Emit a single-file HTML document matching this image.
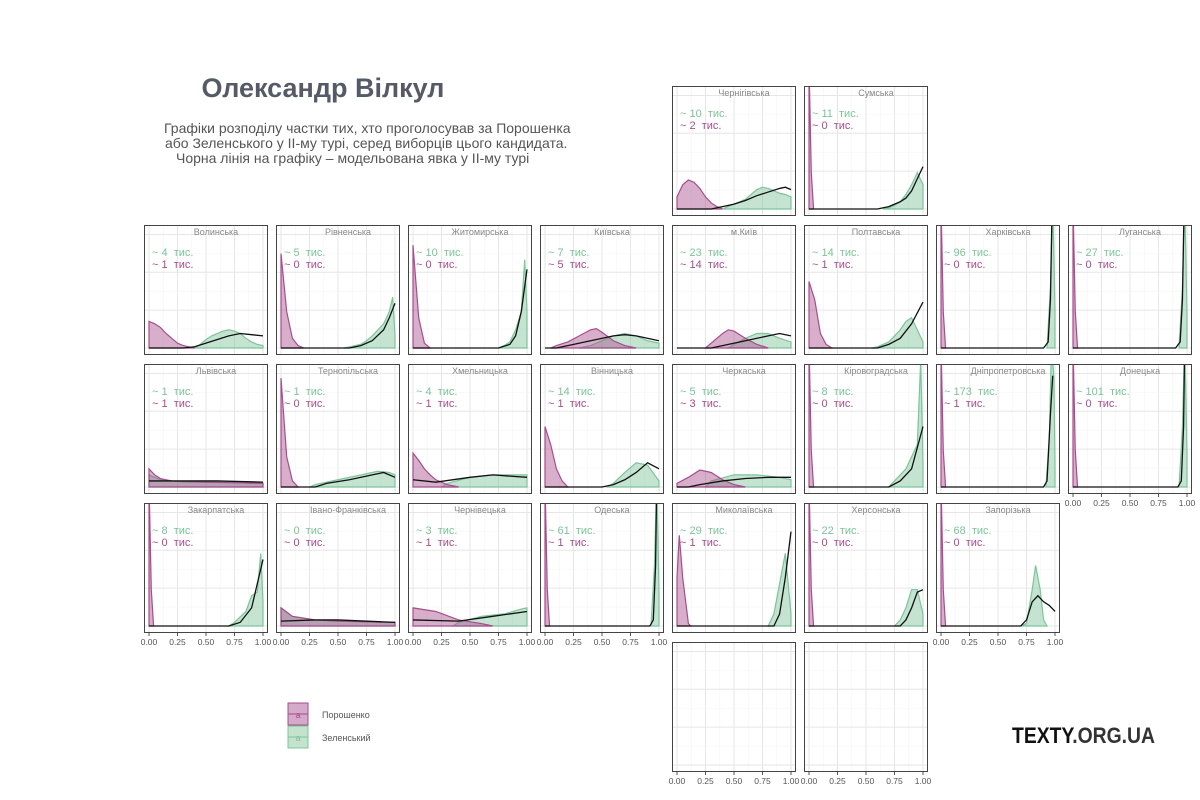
<!DOCTYPE html>
<html><head><meta charset="utf-8">
<style>
body{margin:0;background:#fff;width:1200px;height:800px;overflow:hidden;font-family:"Liberation Sans","DejaVu Sans",sans-serif;}
svg{display:block}
text{white-space:pre}
</style></head>
<body>
<svg id="chart" width="1200" height="800" viewBox="0 0 1200 800">
<text x="323" y="97" text-anchor="middle" font-size="27" font-weight="bold" fill="#555b66">Олександр Вілкул</text>
<g font-size="14" fill="#555">
<text x="164" y="133">Графіки розподілу частки тих, хто проголосував за Порошенка</text>
<text x="165" y="148">або Зеленського у ІІ-му турі, серед виборців цього кандидата.</text>
<text x="176" y="163">Чорна лінія на графіку – модельована явка у ІІ-му турі</text>
</g>
<g>
<rect x="288" y="703" width="20" height="22" fill="#d4a9c9" stroke="#a64d8c"/>
<line x1="288" y1="714" x2="308" y2="714" stroke="#a64d8c"/>
<text x="298" y="718" font-size="9" fill="#a64d8c" text-anchor="middle">a</text>
<text x="322" y="718" font-size="9" fill="#555">Порошенко</text>
<rect x="288" y="726" width="20" height="22" fill="#c3e3cd" stroke="#7cc49a"/>
<line x1="288" y1="737" x2="308" y2="737" stroke="#7cc49a"/>
<text x="298" y="741" font-size="9" fill="#7cc49a" text-anchor="middle">a</text>
<text x="322" y="741" font-size="9" fill="#555">Зеленський</text>
</g>
<text x="1012" y="743" font-size="22" font-weight="bold" fill="#111" textLength="143" lengthAdjust="spacingAndGlyphs">TEXTY<tspan fill="#333">.ORG.UA</tspan></text>
<g id="panels"></g>
</svg>
<script>
// region names, grid position [col,row], vote counts (thousands)
const regions=["Чернігівська","Сумська","Волинська","Рівненська","Житомирська","Київська","м.Київ","Полтавська","Харківська","Луганська","Львівська","Тернопільська","Хмельницька","Вінницька","Черкаська","Кіровоградська","Дніпропетровська","Донецька","Закарпатська","Івано-Франківська","Чернівецька","Одеська","Миколаївська","Херсонська","Запорізька","",""];
const gridPos=[[4,0],[5,0],[0,1],[1,1],[2,1],[3,1],[4,1],[5,1],[6,1],[7,1],[0,2],[1,2],[2,2],[3,2],[4,2],[5,2],[6,2],[7,2],[0,3],[1,3],[2,3],[3,3],[4,3],[5,3],[6,3],[4,4],[5,4]];
const zelK=[10,11,4,5,10,7,23,14,96,27,1,1,4,14,5,8,173,101,8,0,3,61,29,22,68,null,null];
const porK=[2,0,1,0,0,5,14,1,0,0,1,0,1,1,3,0,1,0,0,0,1,1,1,0,0,null,null];
const tickLabels=["0.00","0.25","0.50","0.75","1.00"];
const tickValues=[0,0.25,0.5,0.75,1];
// densities as [share, height-fraction] pairs
const SP=[[0,1.2],[0.02,0.3],[0.04,0]];
const porD=[
[[0,0.1],[0.05,0.2],[0.1,0.24],[0.15,0.22],[0.2,0.17],[0.25,0.1],[0.3,0.05],[0.35,0.02],[0.4,0]],
SP,
[[0,0.22],[0.05,0.2],[0.1,0.17],[0.15,0.12],[0.2,0.08],[0.25,0.04],[0.3,0.02],[0.35,0.01],[0.4,0]],
[[0,0.78],[0.05,0.3],[0.1,0.08],[0.15,0.02],[0.2,0]],
[[0,0.85],[0.05,0.25],[0.1,0.04],[0.15,0]],
[[0.05,0],[0.1,0.02],[0.2,0.05],[0.3,0.1],[0.4,0.15],[0.45,0.16],[0.5,0.13],[0.6,0.06],[0.7,0.02],[0.8,0]],
[[0.25,0],[0.3,0.04],[0.4,0.12],[0.45,0.15],[0.5,0.14],[0.6,0.08],[0.7,0.03],[0.8,0]],
[[0,0.55],[0.05,0.4],[0.1,0.12],[0.15,0.03],[0.2,0]],
SP,SP,
[[0,0.15],[0.05,0.1],[0.1,0.07],[0.2,0.05],[0.5,0.04],[1,0.03]],
[[0,0.9],[0.05,0.25],[0.1,0.05],[0.15,0]],
[[0,0.28],[0.05,0.22],[0.1,0.15],[0.15,0.1],[0.2,0.06],[0.3,0.02],[0.4,0]],
[[0,0.5],[0.05,0.35],[0.1,0.15],[0.15,0.05],[0.2,0]],
[[0,0.03],[0.1,0.08],[0.2,0.14],[0.3,0.12],[0.4,0.06],[0.5,0.02],[0.6,0]],
SP,SP,SP,SP,
[[0,0.15],[0.1,0.08],[0.3,0.05],[0.5,0.04],[1,0.03]],
[[0,0.15],[0.2,0.12],[0.4,0.05],[0.6,0.02],[0.7,0]],
SP,
[[0,0.4],[0.02,0.75],[0.05,0.4],[0.1,0.02],[0.12,0]],
SP,SP,[],[]];
const zelD=[
[[0.4,0],[0.45,0.02],[0.5,0.04],[0.55,0.06],[0.6,0.08],[0.65,0.12],[0.7,0.16],[0.75,0.18],[0.8,0.17],[0.85,0.15],[0.9,0.13],[0.95,0.12],[1,0.1]],
[[0.65,0],[0.7,0.01],[0.75,0.03],[0.8,0.06],[0.85,0.12],[0.9,0.2],[0.95,0.3],[1,0.2]],
[[0.4,0],[0.45,0.03],[0.5,0.07],[0.55,0.1],[0.6,0.12],[0.65,0.14],[0.7,0.15],[0.75,0.14],[0.8,0.12],[0.85,0.08],[0.9,0.05],[0.95,0.03],[1,0.02]],
[[0.55,0],[0.6,0.01],[0.7,0.03],[0.75,0.06],[0.8,0.1],[0.85,0.15],[0.9,0.2],[0.95,0.3],[0.98,0.42],[1,0.1]],
[[0.75,0],[0.8,0.02],[0.85,0.05],[0.9,0.15],[0.95,0.3],[0.98,0.73],[1,0.3]],
[[0.3,0],[0.4,0.02],[0.5,0.06],[0.6,0.1],[0.7,0.12],[0.8,0.1],[0.9,0.06],[1,0.04]],
[[0.45,0],[0.5,0.03],[0.6,0.08],[0.7,0.12],[0.8,0.12],[0.9,0.08],[1,0.05]],
[[0.55,0],[0.6,0.01],[0.7,0.05],[0.8,0.15],[0.85,0.22],[0.9,0.25],[0.95,0.15],[1,0.05]],
[[0.93,0],[0.96,0.5],[0.98,1.2],[1,0.3]],
[[0.93,0],[0.96,0.5],[0.98,1.2],[1,0.3]],
[[0,0.1],[0.1,0.06],[0.3,0.04],[0.6,0.04],[1,0.03]],
[[0.25,0],[0.3,0.02],[0.5,0.06],[0.7,0.1],[0.85,0.13],[0.95,0.12],[1,0.1]],
[[0.25,0],[0.3,0.03],[0.5,0.08],[0.7,0.1],[0.9,0.1],[1,0.1]],
[[0.55,0],[0.6,0.03],[0.7,0.12],[0.8,0.2],[0.9,0.18],[1,0.05]],
[[0.25,0],[0.3,0.05],[0.5,0.1],[0.7,0.1],[0.9,0.08],[1,0.06]],
[[0.7,0],[0.75,0.05],[0.85,0.15],[0.9,0.25],[0.95,0.35],[0.98,1.05],[1,0.2]],
[[0.92,0],[0.95,0.4],[0.97,1.2],[0.99,0.9],[1,0.2]],
[[0.93,0],[0.96,0.5],[0.98,1.2],[1,0.3]],
[[0.7,0],[0.75,0.03],[0.85,0.12],[0.9,0.25],[0.95,0.28],[0.98,0.6],[1,0.2]],
[[0,0.15],[0.1,0.08],[0.3,0.05],[0.5,0.04],[1,0.03]],
[[0.35,0],[0.4,0.03],[0.6,0.08],[0.8,0.1],[0.95,0.14],[1,0.15]],
[[0.93,0],[0.96,0.5],[0.98,1.2],[1,0.3]],
[[0.8,0],[0.85,0.1],[0.9,0.35],[0.95,0.6],[1,0.1]],
[[0.75,0],[0.8,0.05],[0.85,0.15],[0.9,0.3],[0.95,0.3],[1,0.1]],
[[0.7,0],[0.75,0.02],[0.8,0.3],[0.83,0.5],[0.87,0.3],[0.9,0.05],[0.93,0]],
[],[]];
const turnD=[
[[0,0],[0.3,0],[0.4,0.02],[0.5,0.04],[0.6,0.07],[0.7,0.11],[0.8,0.14],[0.9,0.17],[0.95,0.18],[1,0.16]],
[[0,0],[0.6,0],[0.7,0.02],[0.8,0.06],[0.85,0.09],[0.9,0.15],[0.95,0.25],[1,0.35]],
[[0,0],[0.3,0],[0.4,0.01],[0.5,0.04],[0.6,0.07],[0.7,0.1],[0.8,0.12],[0.9,0.11],[1,0.1]],
[[0,0],[0.6,0],[0.7,0.02],[0.8,0.06],[0.9,0.15],[0.95,0.25],[1,0.37]],
[[0,0],[0.75,0],[0.85,0.03],[0.9,0.1],[0.95,0.3],[1,0.65]],
[[0,0],[0.1,0],[0.2,0.02],[0.4,0.06],[0.6,0.1],[0.7,0.11],[0.8,0.1],[1,0.06]],
[[0,0],[0.3,0],[0.4,0.02],[0.6,0.06],[0.8,0.1],[0.9,0.12],[1,0.1]],
[[0,0],[0.6,0],[0.7,0.03],[0.8,0.08],[0.9,0.2],[1,0.38]],
[[0,0],[0.9,0],[0.94,0.05],[0.96,0.4],[0.975,1.2]],
[[0,0],[0.9,0],[0.94,0.05],[0.96,0.4],[0.975,1.2]],
[[0,0.05],[0.3,0.05],[0.6,0.05],[1,0.04]],
[[0,0],[0.3,0],[0.4,0.03],[0.6,0.06],[0.8,0.1],[0.9,0.12],[1,0.08]],
[[0,0.06],[0.2,0.04],[0.5,0.08],[0.7,0.1],[1,0.08]],
[[0,0],[0.5,0],[0.6,0.02],[0.7,0.06],[0.8,0.12],[0.9,0.2],[1,0.15]],
[[0,0],[0.1,0],[0.2,0.02],[0.4,0.05],[0.6,0.07],[0.8,0.08],[1,0.08]],
[[0,0],[0.7,0],[0.8,0.05],[0.9,0.15],[1,0.5]],
[[0,0],[0.9,0],[0.93,0.05],[0.96,0.6],[0.98,0.92]],
[[0,0],[0.92,0],[0.95,0.05],[0.97,0.5],[0.98,1.2]],
[[0,0],[0.7,0],[0.8,0.03],[0.9,0.15],[1,0.55]],
[[0,0.04],[0.3,0.05],[0.5,0.05],[1,0.03]],
[[0,0.05],[0.4,0.04],[0.7,0.08],[1,0.12]],
[[0,0],[0.92,0],[0.95,0.05],[0.97,0.5],[0.98,1.2]],
[[0,0],[0.85,0],[0.9,0.1],[0.95,0.4],[1,0.78]],
[[0,0],[0.8,0],[0.85,0.05],[0.9,0.15],[0.95,0.28],[1,0.3]],
[[0,0],[0.7,0],[0.75,0.05],[0.8,0.2],[0.85,0.25],[0.9,0.2],[0.95,0.17],[1,0.12]],
[],[]];

const NS="http://www.w3.org/2000/svg";
const root=document.getElementById('panels');
const PW=124,PH=130,X0=144,Y0=86,DX=132,DY=139;
function mk(tag,attrs,parent){const e=document.createElementNS(NS,tag);for(const k in attrs)e.setAttribute(k,attrs[k]);parent.appendChild(e);return e;}
regions.forEach((name,i)=>{
  const [c,r]=gridPos[i];
  const px=X0+c*DX,py=Y0+r*DY;
  const g=mk('g',{},root);
  
  
  const sx=v=>px+5+v*114;
  const base=py+PH-7,top=py+2;
  const sy=v=>base-v*(base-top);
  const clip=mk('clipPath',{id:'cl'+i},g);
  mk('rect',{x:px,y:py,width:PW,height:PH},clip);
  mk('rect',{x:px,y:py,width:PW,height:PH,fill:'#fff'},g);
  const grid=mk('g',{},g);
  for(let k=0;k<9;k++){const v=k*0.125;mk('line',{x1:sx(v),x2:sx(v),y1:py,y2:py+PH,stroke:k%2?'#f4f4f4':'#e6e6e6','stroke-width':k%2?0.6:1},grid);}
  for(let k=0;k<=8;k++){const y=base-k*(base-py)/6.5;if(y<py)break;mk('line',{x1:px,x2:px+PW,y1:y,y2:y,stroke:k%2?'#f4f4f4':'#e6e6e6','stroke-width':k%2?0.6:1},grid);}
  const plot=mk('g',{'clip-path':'url(#cl'+i+')'},g);
  function area(d,fill,stroke,nm){
    if(!d.length)return;
    let s='M'+sx(d[0][0])+','+base;
    d.forEach(p=>{s+=' L'+sx(p[0])+','+sy(p[1]);});
    s+=' L'+sx(d[d.length-1][0])+','+base+' Z';
    const el=mk('path',{d:s,fill:fill,'fill-opacity':0.45,stroke:stroke,'stroke-width':1.2},plot);
    
    
  }
  area(zelD[i],'#7cc49a','#7cc49a','zelensky-density');
  area(porD[i],'#a64d8c','#a64d8c','poroshenko-density');
  if(turnD[i].length){
    const d=turnD[i];
    let s='M'+sx(d[0][0])+','+sy(d[0][1]);
    d.forEach(p=>{s+=' L'+sx(p[0])+','+sy(p[1]);});
    const l=mk('path',{d:s,fill:'none',stroke:'#111','stroke-width':1.3},plot);
    
    
  }
  mk('rect',{x:px+0.5,y:py+0.5,width:PW-1,height:PH-1,fill:'none',stroke:'#444','stroke-width':1},g);
  if(name){
    const t=mk('text',{x:px+PW/2+10,y:py+10,'font-size':9,fill:'#888','text-anchor':'middle','clip-path':'url(#cl'+i+')'},g);
    t.textContent=name;
    
    
    const z=mk('text',{x:px+8,y:py+31,'font-size':11,fill:'#7cc49a'},g);
    z.textContent='~ '+zelK[i]+'  тис.';
    
    
    const p=mk('text',{x:px+8,y:py+43,'font-size':11,fill:'#a64d8c'},g);
    p.textContent='~ '+porK[i]+'  тис.';
    
    
  }
  const isBottom=(r===3&&c<=6&&c!==4&&c!==5)||(r===2&&c===7)||r===4;
  if(isBottom){
    tickValues.forEach((v,k)=>{
      mk('line',{x1:sx(v),x2:sx(v),y1:py+PH,y2:py+PH+3,stroke:'#555'},g);
      const tl=mk('text',{x:sx(v),y:py+PH+12,'font-size':8.5,fill:'#555','text-anchor':'middle'},g);
      tl.textContent=tickLabels[k];
      
      
    });
  }
});
</script>
</body></html>
